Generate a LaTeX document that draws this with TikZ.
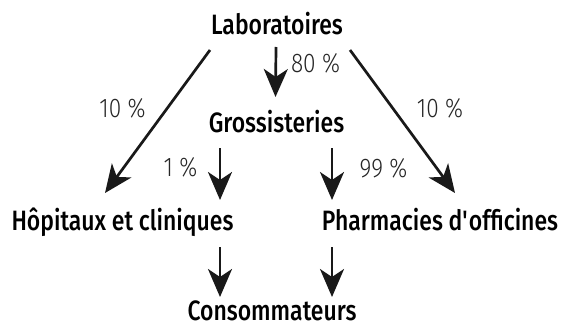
\documentclass[tikz,border=0pt]{standalone}
\usepackage{fontspec}
\setmainfont{Fira Sans}[FakeStretch=0.82]
\newfontfamily\mdfont{Fira Sans Medium}[FakeStretch=0.82]
\newfontfamily\ltfont{Fira Sans Light}[FakeStretch=0.84]
\usepackage{tikz}
\usetikzlibrary{arrows.meta}

\begin{document}
\begin{tikzpicture}[x=0.5pt,y=-0.5pt]
    \tikzstyle{lieu}=[font=\mdfont\fontsize{14}{16}\selectfont, inner sep=0pt, anchor=base]
    \tikzstyle{taux}=[font=\ltfont\fontsize{13.5}{15}\selectfont, text=black!85, inner sep=0pt, anchor=base]
    \tikzstyle{fleche}=[line width=1.35pt, black!90, -{Stealth[length=14pt,width=12pt,inset=4pt]}]
    \useasboundingbox (0,0) rectangle (561,326);
    \node[lieu] (labo) at (277,35) {Laboratoires};
    \node[lieu] (gros) at (276.5,133) {Grossisteries};
    \node[lieu] (hop) at (122.5,230) {Hôpitaux et cliniques};
    \node[lieu] (pha) at (440,230) {Pharmacies d\textquotesingle officines};
    \node[lieu] (cons) at (272,320.5) {Consommateurs};
    \node[taux] (t80) at (315.5,73) {80~\%};
    \node[taux] (t10g) at (122.5,118) {10~\%};
    \node[taux] (t10d) at (440,118) {10~\%};
    \node[taux] (t1) at (180.5,176) {1~\%};
    \node[taux] (t99) at (383.5,177) {99~\%};
    \draw[fleche] ([shift={(-1,12)}]labo.base) -- ([shift={(-1,-36)}]gros.base);
    \draw[fleche] ([shift={(-67,15)}]labo.base) -- ([shift={(-17.5,-37)}]hop.base);
    \draw[fleche] ([shift={(73,15)}]labo.base) -- ([shift={(15,-37)}]pha.base);
    \draw[fleche] ([shift={(-56.5,15)}]gros.base) -- ([shift={(97.5,-30)}]hop.base);
    \draw[fleche] ([shift={(55.5,15)}]gros.base) -- ([shift={(-108,-30)}]pha.base);
    \draw[fleche] ([shift={(97.5,17)}]hop.base) -- ([shift={(-52,-23.5)}]cons.base);
    \draw[fleche] ([shift={(-108,17)}]pha.base) -- ([shift={(60,-23.5)}]cons.base);
\end{tikzpicture}
\end{document}
